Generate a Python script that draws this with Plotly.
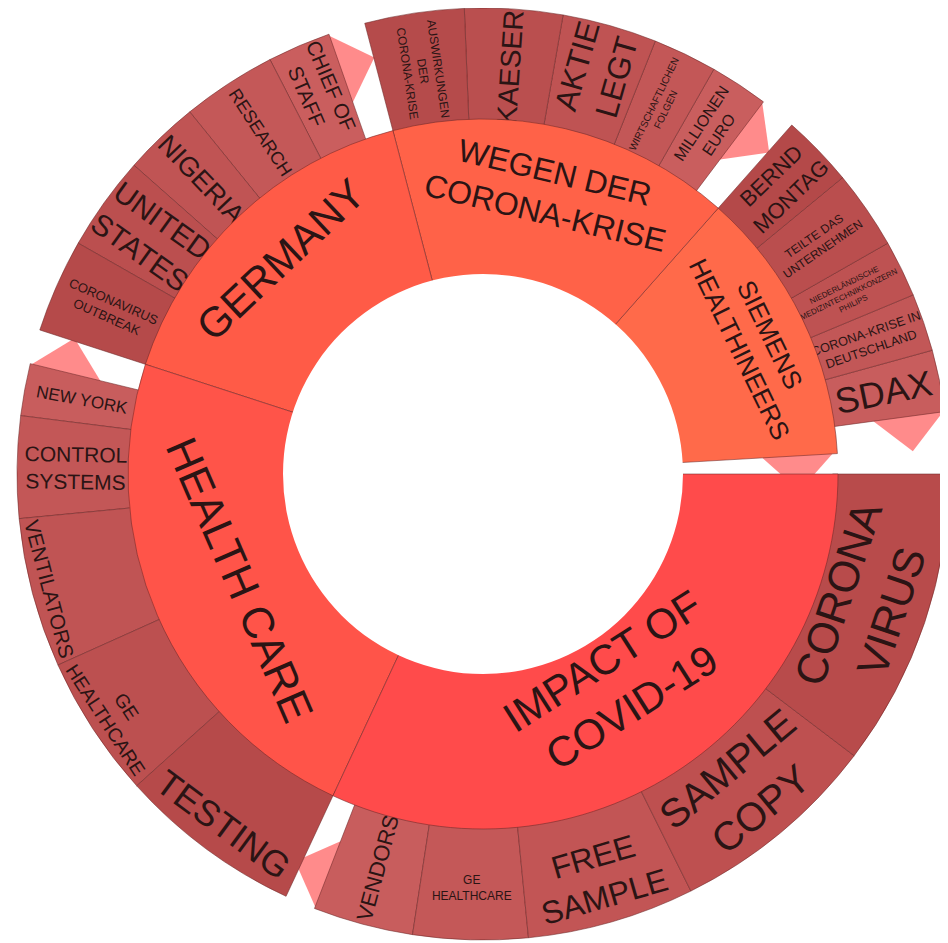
import plotly.graph_objects as go

# ---------------- data ----------------
group_ids = ["impact", "health", "germany", "wegen", "siemens"]
group_labels = ["IMPACT OF<br>COVID-19", "HEALTH CARE", "GERMANY",
                "WEGEN DER<br>CORONA-KRISE", "SIEMENS<br>HEALTHINEERS"]
group_values = [115.0, 83.0, 57.3, 56.2, 45.2]
ring_gap = 3.3

impact_labels = ["CORONA<br>VIRUS", "SAMPLE<br>COPY", "FREE<br>SAMPLE", "GE<br>HEALTHCARE", "VENDORS"]
impact_values = [37.2, 26.3, 20.9, 14.3, 12.5]

health_labels = ["TESTING", "GE<br>HEALTHCARE", "VENTILATORS", "CONTROL<br>SYSTEMS", "NEW YORK"]
health_values = [23.0, 17.8, 18.7, 12.7, 6.5]

germany_labels = ["CORONAVIRUS<br>OUTBREAK", "UNITED<br>STATES", "NIGERIA", "RESEARCH", "CHIEF OF<br>STAFF"]
germany_values = [11.7, 11.8, 9.5, 11.8, 7.9]

wegen_labels = ["AUSWIRKUNGEN<br>DER<br>CORONA-KRISE", "KAESER", "AKTIE<br>LEGT",
                "WIRTSCHAFTLICHEN<br>FOLGEN", "MILLIONEN<br>EURO"]
wegen_values = [12.4, 12.2, 11.8, 8.0, 7.3]

siemens_labels = ["BERND<br>MONTAG", "TEILTE DAS<br>UNTERNEHMEN",
                  "NIEDERLÄNDISCHE<br>MEDIZINTECHNIKKONZERN<br>PHILIPS",
                  "CORONA-KRISE IN<br>DEUTSCHLAND", "SDAX"]
siemens_values = [9.0, 9.8, 7.1, 7.2, 7.7]

# ---------------- styles ----------------
group_colors = ["#FF4B4B", "#FF5449", "#FF5B47", "#FF6248", "#FF6A4A"]
group_font = [42, 44, 42, 32, 26]
leaf_colors = [
    ["#B84B4B", "#BE5050", "#C25555", "#C45858", "#C85D5D"],
    ["#B64A4A", "#BC5050", "#C05454", "#C35757", "#C85D5D"],
    ["#B54A4A", "#BB4F4F", "#C05454", "#C45858", "#CA5E5E"],
    ["#B54B4B", "#BA4F4F", "#BF5353", "#C35757", "#C95E5E"],
    ["#B44949", "#BA4E4E", "#BE5252", "#C25757", "#C85D5D"],
]
leaf_font = [
    [46, 40, 32, 12, 22],
    [36, 44, 44, 21, 17],
    [13, 30, 27, 18, 22],
    [12, 32, 38, 10, 16],
    [22, 12, 8, 13, 36],
]
CCW = True  # plotly lays out siblings counter-clockwise
TRANSP = "rgba(0,0,0,0)"
LINE = "rgba(110,40,40,0.55)"
TEXT = "#2b1414"
FONT = "Liberation Sans, Arial, sans-serif"

children_labels = [impact_labels, health_labels, germany_labels, wegen_labels, siemens_labels]
children_values = [impact_values, health_values, germany_values, wegen_values, siemens_values]


def order(seq):
    return list(reversed(seq)) if CCW else list(seq)


# ---------------- geometry (figure px) ----------------
W, H = 948, 943
CX, CY = 475, 466        # centre of the rings inside the figure
R_OUT = 466              # outer radius of leaf ring
R_IN = 355               # outer radius of group ring
R_HOLE = 200             # radius of the empty centre


def dom(r):
    return dict(x=[(CX - r) / W, (CX + r) / W],
                y=[(H - CY - r) / H, min(1.0, (H - CY + r) / H)])


# ---- outer ring trace (4 levels: hole, spacer, groups(hidden), leaves) ----
A_ids, A_par, A_val, A_lab, A_col, A_lw, A_fs = [], [], [], [], [], [], []


def addA(i, p, v, t, c, lw, fs=10):
    A_ids.append(i); A_par.append(p); A_val.append(v); A_lab.append(t)
    A_col.append(c); A_lw.append(lw); A_fs.append(fs)


addA("root", "", 0, " ", TRANSP, 0)
addA("spacer", "root", 0, " ", TRANSP, 0)
sp_children = [(gid, "g") for gid in group_ids] + [("rootgap", "gap")]
for gid, kind in order(sp_children):
    if kind == "g":
        addA(gid, "spacer", 0, " ", TRANSP, 0)
    else:
        addA("rootgap", "spacer", ring_gap, " ", TRANSP, 0)
for gi, gid in enumerate(group_ids):
    items = []
    for k, (lab, val) in enumerate(zip(children_labels[gi], children_values[gi])):
        items.append((f"{gid}_{k}", val, lab, leaf_colors[gi][k], 1, leaf_font[gi][k]))
    gap = group_values[gi] - sum(children_values[gi])
    items.append((f"{gid}_gap", gap, " ", TRANSP, 0, 10))
    for it in order(items):
        addA(it[0], gid, it[1], it[2], it[3], it[4], it[5])

traceA = go.Sunburst(
    ids=A_ids, labels=A_lab, parents=A_par, values=A_val,
    textinfo="label", branchvalues="remainder", sort=False,
    marker=dict(colors=A_col, line=dict(color=LINE, width=A_lw)),
    leaf=dict(opacity=1),
    insidetextorientation="auto",
    textfont=dict(family=FONT, size=A_fs, color=TEXT),
    hoverinfo="none",
    domain=dom(R_OUT),
)

# ---- inner ring trace (2 levels: hole, groups) ----
B_ids = ["rootB"]; B_par = [""]; B_val = [0]; B_lab = [" "]; B_col = [TRANSP]; B_lw = [0]; B_fs = [10]
b_items = [(f"B_{gid}", group_values[i], group_labels[i], group_colors[i], 1, group_font[i])
           for i, gid in enumerate(group_ids)] + [("B_gap", ring_gap, " ", TRANSP, 0, 10)]
for it in order(b_items):
    B_ids.append(it[0]); B_par.append("rootB"); B_val.append(it[1])
    B_lab.append(it[2]); B_col.append(it[3]); B_lw.append(it[4]); B_fs.append(it[5])

traceB = go.Sunburst(
    ids=B_ids, labels=B_lab, parents=B_par, values=B_val,
    textinfo="label", branchvalues="remainder", sort=False,
    marker=dict(colors=B_col, line=dict(color=LINE, width=B_lw)),
    leaf=dict(opacity=1),
    insidetextorientation="auto",
    textfont=dict(family=FONT, size=B_fs, color=TEXT),
    hoverinfo="none",
    domain=dom(R_IN),
)

# ---- empty centre (white disc over the inner part of the group ring) ----
traceC = go.Sunburst(
    ids=["centre"], labels=[" "], parents=[""], values=[1],
    textinfo="none", marker=dict(colors=["#ffffff"], line=dict(width=0)),
    leaf=dict(opacity=1),
    hoverinfo="none", domain=dom(R_HOLE),
)

# ---- decorative markers at the end of each group (half hidden under the cells) ----
tri_theta, tri_r = [], []
start = 0.0
for gi in range(len(group_ids)):
    tri_theta.append(start + sum(children_values[gi]))
    tri_r.append(R_OUT - 37)
    start += group_values[gi]
tri_theta.append(start)
tri_r.append(315)

traceT = go.Scatterpolar(
    theta=tri_theta, r=tri_r, mode="markers",
    marker=dict(symbol="diamond", size=54, angle=tri_theta,
                color="rgba(255,110,110,0.8)", line=dict(width=0)),
    hoverinfo="skip", showlegend=False,
)

fig = go.Figure([traceT, traceA, traceB, traceC])
fig.update_layout(
    width=W, height=H,
    margin=dict(l=0, r=0, t=0, b=0),
    paper_bgcolor="white",
    showlegend=False,
    polar=dict(
        domain=dom(R_OUT),
        bgcolor=TRANSP,
        radialaxis=dict(visible=False, range=[0, R_OUT]),
        angularaxis=dict(visible=False, direction="clockwise", rotation=0),
    ),
)
fig.write_html("out.html")
